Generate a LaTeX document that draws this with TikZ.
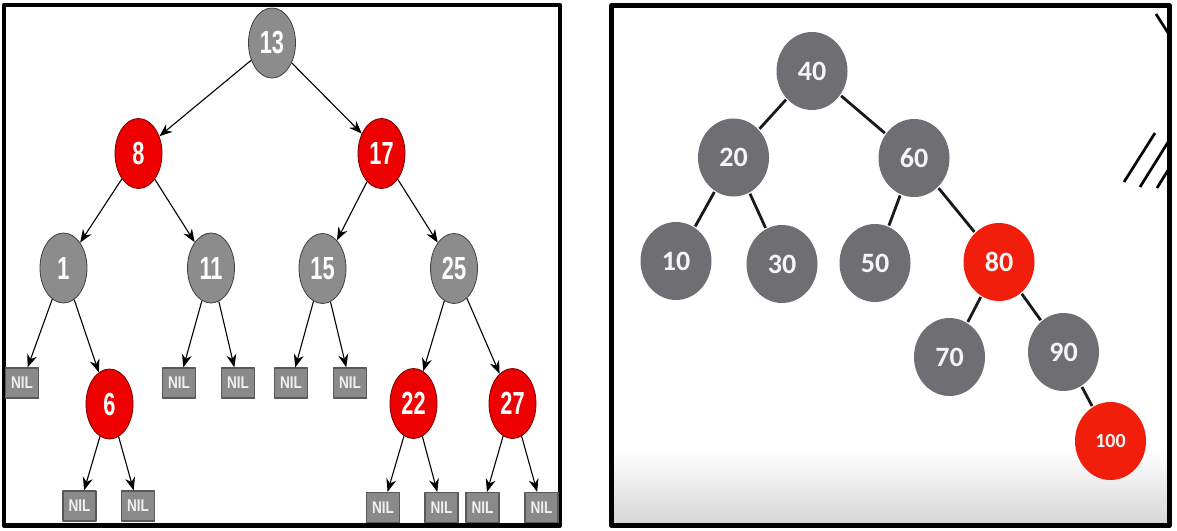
\documentclass[tikz,border=0pt]{standalone}
\usepackage{fontspec}
\usepackage{tikz}
\usetikzlibrary{arrows.meta}
\usetikzlibrary{shapes.geometric}
\newfontfamily\treefont[FakeStretch=0.68]{Liberation Sans}
\newfontfamily\nilfont[FakeStretch=0.8]{Liberation Sans}
\newfontfamily\slidefont{Carlito}
\definecolor{nodegray}{HTML}{8C8C8C}
\definecolor{nodered}{HTML}{EE0000}
\definecolor{nilgray}{HTML}{8A8A8A}
\definecolor{slidegray}{HTML}{6E6E73}
\definecolor{slidered}{HTML}{F01E0A}
\tikzset{gn/.style={ellipse,draw=black!75,line width=0.8pt,fill=nodegray,text=white,
    minimum width=47pt,minimum height=70pt,inner sep=0pt,
    font=\treefont\bfseries\fontsize{32}{32}\selectfont}}
\tikzset{rn/.style={gn,draw=red!45!black,fill=nodered}}
\tikzset{nil/.style={rectangle,draw=black!65,line width=1.2pt,fill=nilgray,text=black!6,
    minimum width=33pt,minimum height=30pt,inner sep=0pt,
    font=\nilfont\bfseries\fontsize{17}{17}\selectfont}}
\tikzset{sg/.style={ellipse,fill=slidegray,text=black!4,
    minimum width=71pt,minimum height=78pt,inner sep=0pt,
    font=\slidefont\bfseries\fontsize{28}{28}\selectfont}}
\tikzset{sr/.style={sg,fill=slidered}}

\begin{document}
\begin{tikzpicture}[x=1pt,y=-1pt,line join=round,>={Stealth[length=13pt,width=10pt]}]
  \useasboundingbox (0,0) rectangle (1177,530);
  \fill[white] (0,0) rectangle (1177,530);
  % left panel
  \draw[line width=4.5pt] (4,5) rectangle (560,525.5);
  \begin{scope}[line width=1.1pt]
    \node[gn] (n13) at (272,43) {13};
    \node[rn] (n8) at (138.5,153.5) {8}
      edge [<-] (n13);
    \node[rn] (n17) at (381.5,153.5) {17}
      edge [<-] (n13);
    \node[gn] (n1) at (63.5,268) {1}
      edge [<-] (n8);
    \node[gn] (n11) at (211,268) {11}
      edge [<-] (n8);
    \node[gn] (n15) at (322.5,268.5) {15}
      edge [<-] (n17);
    \node[gn] (n25) at (454,268.5) {25}
      edge [<-] (n17);
    \node[rn] (n6) at (109.5,404) {6}
      edge [<-] (n1);
    \node[rn] (n22) at (413.5,403.5) {22}
      edge [<-] (n25);
    \node[rn] (n27) at (512.5,403.5) {27}
      edge [<-] (n25);
    \node[nil] (nil1) at (22,383) {NIL}
      edge [<-] (n1);
    \node[nil] (nil2) at (179,383) {NIL}
      edge [<-] (n11);
    \node[nil] (nil3) at (238,383) {NIL}
      edge [<-] (n11);
    \node[nil] (nil4) at (291,383) {NIL}
      edge [<-] (n15);
    \node[nil] (nil5) at (350,383) {NIL}
      edge [<-] (n15);
    \node[nil] (nil6) at (79.5,506) {NIL}
      edge [<-] (n6);
    \node[nil] (nil7) at (138,506) {NIL}
      edge [<-] (n6);
    \node[nil] (nil8) at (383,507.5) {NIL}
      edge [<-] (n22);
    \node[nil] (nil9) at (441.5,507.5) {NIL}
      edge [<-] (n22);
    \node[nil] (nil10) at (482.5,507.5) {NIL}
      edge [<-] (n27);
    \node[nil] (nil11) at (541.5,507.5) {NIL}
      edge [<-] (n27);
  \end{scope}
  % right panel
  \shade[top color=white,bottom color=black!16] (614,450) rectangle (1167,523);
  \begin{scope}[line width=2.7pt]
    \clip (614,7.5) rectangle (1167,523);
    \draw (1156,14) -- (1170,36);
    \draw (1124,182) -- (1155,133);
    \draw (1140,187) -- (1170,139);
    \draw (1157,188) -- (1170,167);
  \end{scope}
  \draw[line width=4.5pt] (611.5,5.5) rectangle (1169.5,525.5);
  \begin{scope}[line width=2.8pt,black!90]
    \node[sg] (s40) at (812,71) {40};
    \node[sg] (s20) at (733.5,157.5) {20}
      edge (s40);
    \node[sg] (s60) at (914,158) {60}
      edge (s40);
    \node[sg] (s10) at (676,261) {10}
      edge (s20);
    \node[sg] (s30) at (782,264) {30}
      edge (s20);
    \node[sg] (s50) at (875,263) {50}
      edge (s60);
    \node[sr] (s80) at (999,262) {80}
      edge (s60);
    \node[sg] (s70) at (949.5,357) {70}
      edge (s80);
    \node[sg] (s90) at (1063.5,352) {90}
      edge (s80);
    \node[sr,font=\slidefont\bfseries\fontsize{20}{20}\selectfont] (s100) at (1110.5,441) {100}
      edge (s90);
  \end{scope}
\end{tikzpicture}
\end{document}
